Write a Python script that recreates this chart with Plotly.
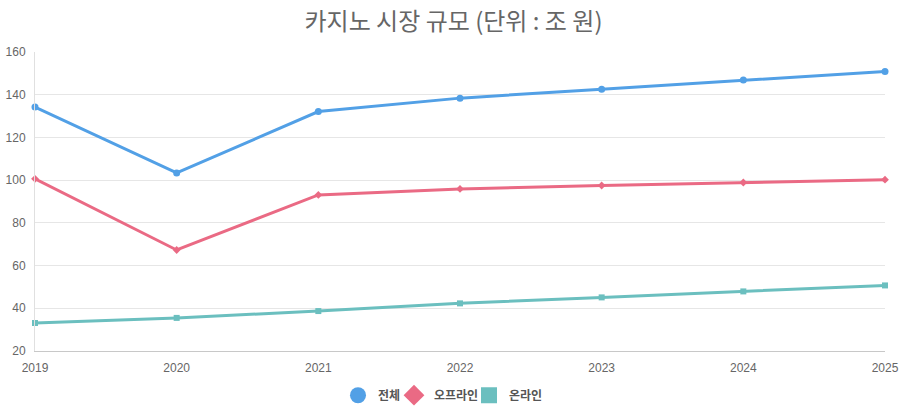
import plotly.graph_objects as go

years = [2019, 2020, 2021, 2022, 2023, 2024, 2025]
total = [134.2, 103.4, 132.1, 138.4, 142.6, 146.9, 150.9]
offline = [100.6, 67.3, 93.1, 95.9, 97.5, 98.9, 100.2]
online = [33.1, 35.5, 38.7, 42.3, 45.1, 47.9, 50.7]

names = ["전체", "오프라인", "온라인"]
colors = ["#52a0e6", "#ea6a84", "#6bbfbf"]
symbols = ["circle", "diamond", "square"]
msizes = [7, 6, 6]
series = [total, offline, online]
legend_ids = ["legend", "legend2", "legend3"]
legend_left_px = [338, 394, 469]

fig = go.Figure()
for n, c, s, ms, v in zip(names, colors, symbols, msizes, series):
    fig.add_trace(go.Scatter(
        x=years, y=v, mode="lines+markers", name=n, showlegend=False,
        line=dict(color=c, width=3), marker=dict(color=c, size=ms, symbol=s),
        cliponaxis=False,
    ))
for n, c, s, lg in zip(names, colors, symbols, legend_ids):
    fig.add_trace(go.Scatter(
        x=[None], y=[None], mode="markers", name=n, legend=lg,
        marker=dict(color=c, size=16, symbol=s),
    ))

font_fam = "Liberation Sans, Noto Sans CJK KR, sans-serif"
legend_font = dict(family="Noto Sans CJK KR, sans-serif", size=12, color="#555555",
                   weight="bold")
legends = {}
for lg, lx in zip(legend_ids, legend_left_px):
    legends[lg] = dict(orientation="h", xref="container", x=lx / 907, xanchor="left",
                       yref="container", y=0.087, yanchor="top", font=legend_font,
                       itemwidth=30, bgcolor="rgba(0,0,0,0)", borderwidth=0)

fig.update_layout(
    width=907, height=417,
    margin=dict(l=35, r=22, t=52, b=66),
    paper_bgcolor="white", plot_bgcolor="white",
    title=dict(text="카지노 시장 규모 (단위 : 조 원)", x=0.5, xanchor="center",
               yref="container", y=1 - 13 / 417, yanchor="top",
               font=dict(family="Noto Sans CJK KR, sans-serif", size=24, color="#666666")),
    font=dict(family=font_fam, size=12, color="#666666"),
    xaxis=dict(range=[2019, 2025], tickmode="array", tickvals=years,
               ticktext=[str(y) for y in years], showgrid=False, zeroline=False,
               showline=True, linecolor="#c8c8c8", linewidth=1, automargin=False,
               ticks="", ticklen=0, ticklabelstandoff=6,
               tickfont=dict(size=12, color="#666666")),
    yaxis=dict(range=[20, 160], dtick=20, tick0=20, showgrid=True, gridcolor="#e6e6e6",
               zeroline=False, showline=True, linecolor="#e0e0e0", linewidth=1,
               automargin=False, ticks="", ticklabelstandoff=6,
               tickfont=dict(size=12, color="#666666")),
    **legends,
)
fig.write_html("out.html", config={"displayModeBar": False},
               post_script="document.body.style.margin='0';document.body.style.padding='0';")
